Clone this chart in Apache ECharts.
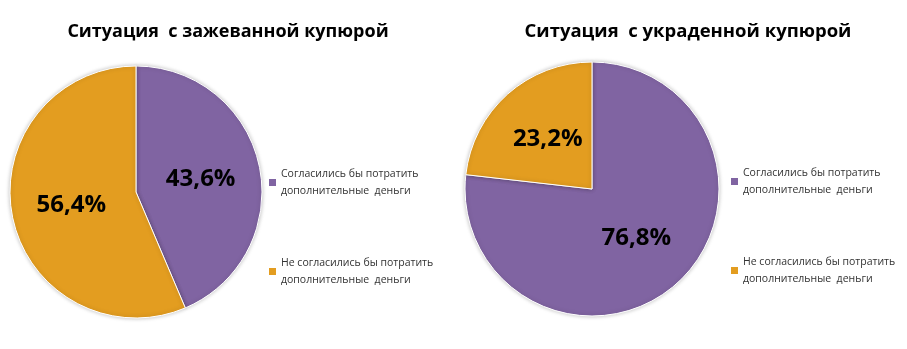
<!DOCTYPE html>
<html>
<head>
<meta charset="utf-8">
<script src="https://cdn.jsdelivr.net/npm/echarts@6/dist/echarts.min.js"></script>
<style>
  html, body { margin: 0; padding: 0; background: #fff; }
  #chart { width: 907px; height: 349px; }
</style>
</head>
<body>
<div id="chart"></div>
<script>
// Survey answers: share of respondents for each situation
const categories = ['Согласились бы потратить', 'Не согласились бы потратить'];
const legendSecondLine = 'дополнительные  деньги';
const chartTitles = ['Ситуация  с зажеванной купюрой', 'Ситуация  с украденной купюрой'];
const chewedValues = [43.6, 56.4];
const stolenValues = [76.8, 23.2];
const sliceColors = ['#8064A2', '#E39D20'];

const FONT = '"Open Sans", "Noto Sans", sans-serif';

function pieSeries(values, center, radius) {
  return {
    type: 'pie',
    center: center,
    radius: radius,
    startAngle: 90,
    clockwise: true,
    silent: true,
    label: {
      show: true,
      position: 'inside',
      formatter: p => p.value.toFixed(1).replace('.', ',') + '%',
      fontFamily: FONT,
      fontWeight: 'bold',
      fontSize: 24,
      color: '#000'
    },
    labelLine: { show: false },
    itemStyle: {
      borderColor: '#fff',
      borderWidth: 1,
      shadowBlur: 4,
      shadowColor: 'rgba(0,0,0,0.25)'
    },
    data: categories.map((name, i) => ({
      name: name,
      value: values[i],
      itemStyle: { color: sliceColors[i] }
    }))
  };
}

function legendAt(left, top) {
  return {
    orient: 'vertical',
    left: left,
    top: top,
    icon: 'rect',
    itemWidth: 7,
    itemHeight: 7,
    itemGap: 38,
    selectedMode: false,
    itemStyle: { borderWidth: 0, shadowBlur: 0 },
    formatter: name => name + '\n' + legendSecondLine,
    textStyle: {
      fontFamily: FONT,
      fontSize: 10.5,
      color: '#333',
      lineHeight: 17,
      padding: [17, 0, 0, 0]
    },
    data: categories
  };
}

const chart = echarts.init(document.getElementById('chart'), null, { renderer: 'canvas' });
chart.setOption({
  animation: false,
  color: sliceColors,
  title: [
    {
      text: chartTitles[0],
      left: 223,
      top: 18,
      textAlign: 'center',
      textStyle: { fontFamily: FONT, fontWeight: 'bold', fontSize: 18, color: '#000' }
    },
    {
      text: chartTitles[1],
      left: 683,
      top: 17,
      textAlign: 'center',
      textStyle: { fontFamily: FONT, fontWeight: 'bold', fontSize: 18.5, color: '#000' }
    }
  ],
  legend: [legendAt(264, 152), legendAt(726, 151)],
  series: [
    pieSeries(chewedValues, [136, 192], 126),
    pieSeries(stolenValues, [592, 189], 127)
  ]
});
</script>
</body>
</html>
